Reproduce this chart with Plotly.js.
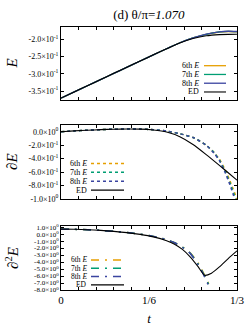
<!DOCTYPE html>
<html>
<head>
<meta charset="utf-8">
<script src="https://cdn.plot.ly/plotly-3.0.1.min.js"></script>
<style>html,body{margin:0;padding:0;background:#fff;}#plot{width:249px;height:331px;}</style>
</head>
<body>
<div id="plot"></div>
<script>
// ---------- data ----------
const seriesNames = ["6th", "7th", "8th", "ED"];
const seriesColors = ["#e69f00", "#009e73", "#3a44a0", "#000000"];

// Panel 1 : E
const tE = [0, 0.025, 0.05, 0.075, 0.1, 0.125, 0.15, 0.175, 0.2, 0.225, 0.25, 0.275, 0.3, 0.3167, 0.3333];
const E_ED = [-0.3705, -0.3526, -0.3348, -0.3169, -0.2990, -0.2812, -0.2633, -0.2455, -0.2280, -0.2110, -0.1985, -0.1905, -0.1870, -0.1862, -0.1860];
const E_6  = [-0.3705, -0.3526, -0.3348, -0.3169, -0.2990, -0.2812, -0.2633, -0.2455, -0.2278, -0.2105, -0.1965, -0.1862, -0.1795, -0.1780, -0.1790];
const E_7  = [-0.3705, -0.3526, -0.3348, -0.3169, -0.2990, -0.2812, -0.2633, -0.2455, -0.2278, -0.2105, -0.1965, -0.1860, -0.1792, -0.1776, -0.1784];
const E_8  = [-0.3705, -0.3526, -0.3348, -0.3169, -0.2990, -0.2812, -0.2633, -0.2455, -0.2278, -0.2105, -0.1964, -0.1858, -0.1790, -0.1773, -0.1780];

// Panel 2 : dE
const t1_ED = [0, 0.025, 0.05, 0.075, 0.1, 0.125, 0.15, 0.175, 0.2, 0.225, 0.25, 0.275, 0.3, 0.3167, 0.3333];
const d1_ED = [0.0, 0.012, 0.022, 0.031, 0.037, 0.040, 0.038, 0.025, -0.005, -0.075, -0.19, -0.34, -0.50, -0.61, -0.72];
const t1_6 = [0, 0.025, 0.05, 0.075, 0.1, 0.125, 0.15, 0.175, 0.2, 0.225, 0.25, 0.275, 0.29, 0.3, 0.31, 0.32, 0.3333];
const d1_6 = [0.0, 0.012, 0.022, 0.031, 0.037, 0.040, 0.039, 0.030, 0.010, -0.030, -0.085, -0.20, -0.31, -0.41, -0.55, -0.73, -1.0];
const t1_7 = [0, 0.025, 0.05, 0.075, 0.1, 0.125, 0.15, 0.175, 0.2, 0.225, 0.25, 0.275, 0.29, 0.3, 0.31, 0.32, 0.331];
const d1_7 = [0.0, 0.012, 0.022, 0.031, 0.037, 0.040, 0.039, 0.030, 0.010, -0.030, -0.085, -0.20, -0.31, -0.42, -0.57, -0.76, -1.0];
const t1_8 = [0, 0.025, 0.05, 0.075, 0.1, 0.125, 0.15, 0.175, 0.2, 0.225, 0.25, 0.275, 0.29, 0.3, 0.31, 0.32, 0.329];
const d1_8 = [0.0, 0.012, 0.022, 0.031, 0.037, 0.040, 0.039, 0.030, 0.010, -0.030, -0.085, -0.20, -0.32, -0.43, -0.59, -0.79, -1.0];

// Panel 3 : d2E
const t2_ED = [0, 0.025, 0.05, 0.075, 0.1, 0.125, 0.15, 0.175, 0.2, 0.215, 0.23, 0.245, 0.26, 0.272, 0.285, 0.3, 0.3167, 0.3333];
const d2_ED = [0.70, 0.68, 0.62, 0.52, 0.38, 0.20, -0.05, -0.40, -0.95, -1.45, -2.2, -3.3, -4.7, -5.9, -5.6, -4.7, -3.5, -2.4];
const t2_6 = [0, 0.025, 0.05, 0.075, 0.1, 0.125, 0.15, 0.175, 0.2, 0.215, 0.23, 0.245, 0.26, 0.27, 0.277, 0.284];
const d2_6 = [0.70, 0.68, 0.62, 0.52, 0.38, 0.21, -0.02, -0.33, -0.80, -1.25, -1.85, -2.7, -4.2, -5.6, -6.7, -7.7];
const t2_7 = [0, 0.025, 0.05, 0.075, 0.1, 0.125, 0.15, 0.175, 0.2, 0.215, 0.23, 0.245, 0.26, 0.27, 0.277, 0.283];
const d2_7 = [0.70, 0.68, 0.62, 0.52, 0.38, 0.21, -0.02, -0.33, -0.80, -1.25, -1.85, -2.75, -4.3, -5.7, -6.8, -7.7];
const t2_8 = [0, 0.025, 0.05, 0.075, 0.1, 0.125, 0.15, 0.175, 0.2, 0.215, 0.23, 0.245, 0.26, 0.27, 0.276, 0.282];
const d2_8 = [0.70, 0.68, 0.62, 0.52, 0.38, 0.21, -0.02, -0.33, -0.80, -1.25, -1.90, -2.8, -4.4, -5.8, -6.8, -7.7];

// ticks
const xTickVals = [0, 1/30, 2/30, 3/30, 4/30, 5/30, 6/30, 7/30, 8/30, 9/30, 10/30];
const xTickText = ["0", "", "", "", "", "1/6", "", "", "", "", "1/3"];
const y1TickVals = [-0.2, -0.25, -0.3, -0.35];
const y1TickText = ["-2.0×10<sup>-1</sup>", "-2.5×10<sup>-1</sup>", "-3.0×10<sup>-1</sup>", "-3.5×10<sup>-1</sup>"];
const y2TickVals = [0, -0.2, -0.4, -0.6, -0.8, -1.0];
const y2TickText = ["0.0×10<sup>0</sup>", "-2.0×10<sup>-1</sup>", "-4.0×10<sup>-1</sup>", "-6.0×10<sup>-1</sup>", "-8.0×10<sup>-1</sup>", "-1.0×10<sup>0</sup>"];
const y3TickVals = [1, 0, -1, -2, -3, -4, -5, -6, -7, -8];
const y3TickText = ["1.0×10<sup>0</sup>", "0.0×10<sup>0</sup>", "-1.0×10<sup>0</sup>", "-2.0×10<sup>0</sup>", "-3.0×10<sup>0</sup>", "-4.0×10<sup>0</sup>", "-5.0×10<sup>0</sup>", "-6.0×10<sup>0</sup>", "-7.0×10<sup>0</sup>", "-8.0×10<sup>0</sup>"];

// ---------- build ----------
const FONT = "'Liberation Serif', 'Times New Roman', serif";
const dashDot = "8px,6px,2px,6px";
function tr(x, y, i, xa, ya, dash, w) {
  return {x: x, y: y, xaxis: xa, yaxis: ya, type: "scatter", mode: "lines",
    line: {color: seriesColors[i], width: w, dash: dash, shape: "spline", smoothing: 0.6},
    hoverinfo: "skip", showlegend: false};
}
const data = [
  tr(tE, E_6, 0, "x", "y", "solid", 1.3),
  tr(tE, E_7, 1, "x", "y", "solid", 1.3),
  tr(tE, E_8, 2, "x", "y", "solid", 1.3),
  tr(tE, E_ED, 3, "x", "y", "solid", 1.1),
  tr(t1_6, d1_6, 0, "x2", "y2", "dot", 1.5),
  tr(t1_7, d1_7, 1, "x2", "y2", "dot", 1.5),
  tr(t1_8, d1_8, 2, "x2", "y2", "dot", 1.5),
  tr(t1_ED, d1_ED, 3, "x2", "y2", "solid", 1.1),
  tr(t2_6, d2_6, 0, "x3", "y3", dashDot, 1.5),
  tr(t2_7, d2_7, 1, "x3", "y3", dashDot, 1.5),
  tr(t2_8, d2_8, 2, "x3", "y3", dashDot, 1.5),
  tr(t2_ED, d2_ED, 3, "x3", "y3", "solid", 1.1)
];

function xax(anchor, showLabels) {
  return {domain: [0, 1], anchor: anchor, range: [0, 1/3], tickmode: "array",
    tickvals: xTickVals, ticktext: showLabels ? xTickText : xTickVals.map(() => ""),
    ticks: "inside", ticklen: 3, tickcolor: "#000", tickwidth: 1, mirror: "allticks",
    showline: true, linecolor: "#000", linewidth: 1, showgrid: false, zeroline: false,
    tickfont: {family: FONT, size: 11, color: "#000"}, fixedrange: true};
}
function yax(anchor, dom, range, vals, text, fs) {
  return {domain: dom, anchor: anchor, range: range, tickmode: "array", tickvals: vals, ticktext: text,
    ticks: "inside", ticklen: 3, tickcolor: "#000", tickwidth: 1, mirror: "allticks",
    showline: true, linecolor: "#000", linewidth: 1, showgrid: false, zeroline: false,
    tickfont: {family: FONT, size: fs, color: "#000"}, fixedrange: true};
}

const layout = {
  width: 249, height: 331, margin: {l: 61, r: 12, t: 27, b: 41},
  paper_bgcolor: "#fff", plot_bgcolor: "#fff", showlegend: false,
  font: {family: FONT, color: "#000"},
  title: {text: "(d) θ/π=<i>1.070</i>", font: {family: FONT, size: 13, color: "#000"},
          x: 0.598, xanchor: "center", y: 1 - 14/331, yanchor: "middle"},
  xaxis: xax("y", false),
  xaxis2: xax("y2", false),
  xaxis3: Object.assign(xax("y3", true), {title: {text: "<i>t</i>", font: {family: FONT, size: 13, color: "#000"}, standoff: 8}}),
  yaxis: yax("x", [0.7224, 1], [-0.376, -0.165], y1TickVals, y1TickText, 8),
  yaxis2: yax("x2", [0.346, 0.6274], [-1.0, 0.1], y2TickVals, y2TickText, 8),
  yaxis3: yax("x3", [0, 0.2433], [-8.0, 1.15], y3TickVals, y3TickText, 7),
  annotations: [], shapes: []
};

// y titles
const yTitles = [["<i>E</i>", "y"], ["∂<i>E</i>", "y2"], ["∂<sup>2</sup><i>E</i>", "y3"]];
yTitles.forEach(function (p) {
  layout.annotations.push({text: p[0], xref: "paper", x: (12 - 61) / 176, xanchor: "center",
    yref: p[1] + " domain", y: 0.5, yanchor: "middle", textangle: -90, showarrow: false,
    font: {family: FONT, size: 15, color: "#000"}});
});

// legends (gnuplot style: text then sample line)
function legend(xa, ya, rows, textRight, lineL, lineR, dashes, widths, fs) {
  for (let i = 0; i < 4; i++) {
    const label = i < 3 ? seriesNames[i] + " <i>E</i>" : "ED";
    layout.annotations.push({text: label, xref: xa + " domain", x: textRight, xanchor: "right",
      yref: ya + " domain", y: rows[i], yanchor: "middle", showarrow: false,
      font: {family: FONT, size: fs, color: "#000"}, borderpad: 0});
    layout.shapes.push({type: "line", xref: xa + " domain", yref: ya + " domain",
      x0: lineL, x1: lineR, y0: rows[i], y1: rows[i],
      line: {color: seriesColors[i], width: widths[i], dash: dashes[i]}});
  }
}
legend("x", "y", [0.47, 0.35, 0.23, 0.11],
  (200 - 61) / 176, (204 - 61) / 176, (226 - 61) / 176, ["solid", "solid", "solid", "solid"], [1.3, 1.3, 1.3, 1.1], 8);
legend("x2", "y2", [0.48, 0.36, 0.24, 0.12],
  (88 - 61) / 176, (91 - 61) / 176, (124 - 61) / 176, ["dot", "dot", "dot", "solid"], [1.5, 1.5, 1.5, 1.1], 8);
legend("x3", "y3", [0.47, 0.34, 0.21, 0.08],
  (88 - 61) / 176, (91 - 61) / 176, (124 - 61) / 176, [dashDot, dashDot, dashDot, "solid"], [1.5, 1.5, 1.5, 1.1], 7.5);

Plotly.newPlot("plot", data, layout, {staticPlot: true, displayModeBar: false});
</script>
</body>
</html>
